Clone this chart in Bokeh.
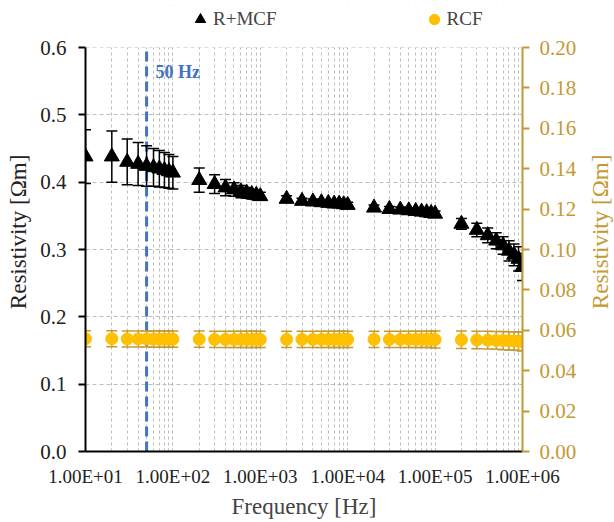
import numpy as np
from math import pi
from bokeh.plotting import figure
from bokeh.layouts import row
from bokeh.models import (Range1d, LinearAxis, FixedTicker, BasicTickFormatter,
                          NumeralTickFormatter, Label, Legend, LegendItem, ColumnDataSource,
                          BoxAnnotation)
from bokeh.embed import file_html
from bokeh.resources import INLINE

# ---------------- data ----------------
freq = [10, 20, 30, 40, 50, 60, 70, 80, 90,
        100, 200, 300, 400, 500, 600, 700, 800, 900,
        1000, 2000, 3000, 4000, 5000, 6000, 7000, 8000, 9000,
        10000, 20000, 30000, 40000, 50000, 60000, 70000, 80000, 90000,
        100000, 200000, 300000, 400000, 500000, 600000, 700000, 800000, 900000,
        1000000]

rmcf = [0.438, 0.438, 0.430, 0.427, 0.424, 0.422, 0.420, 0.418, 0.416,
        0.414, 0.403, 0.397, 0.392, 0.389, 0.386, 0.384, 0.382, 0.381,
        0.379, 0.375, 0.372, 0.371, 0.370, 0.369, 0.368, 0.368, 0.367,
        0.366, 0.362, 0.360, 0.359, 0.358, 0.357, 0.356, 0.355, 0.354,
        0.353, 0.338, 0.329, 0.321, 0.313, 0.306, 0.298, 0.292, 0.286,
        0.274]
rmcf_err = [0.040, 0.038, 0.034, 0.032, 0.030, 0.028, 0.027, 0.026, 0.025,
            0.024, 0.018, 0.014, 0.012, 0.010, 0.009, 0.008, 0.007, 0.007,
            0.006, 0.005, 0.004, 0.004, 0.004, 0.004, 0.004, 0.004, 0.004,
            0.004, 0.004, 0.004, 0.004, 0.004, 0.004, 0.004, 0.004, 0.004,
            0.004, 0.008, 0.010, 0.011, 0.012, 0.013, 0.015, 0.016, 0.018,
            0.020]

rcf = [0.0558, 0.0558, 0.0557, 0.0557, 0.0557, 0.0556, 0.0556, 0.0556, 0.0556,
       0.0556, 0.0556, 0.0555, 0.0555, 0.0555, 0.0555, 0.0555, 0.0555, 0.0555,
       0.0555, 0.0555, 0.0555, 0.0555, 0.0555, 0.0555, 0.0555, 0.0555, 0.0555,
       0.0555, 0.0555, 0.0555, 0.0555, 0.0555, 0.0555, 0.0555, 0.0555, 0.0555,
       0.0554, 0.0553, 0.0552, 0.0551, 0.0550, 0.0549, 0.0548, 0.0547, 0.0546,
       0.0545]
rcf_err = [0.0040] * 36 + [0.0042, 0.0043, 0.0043, 0.0044, 0.0044, 0.0045, 0.0045, 0.0046, 0.0046, 0.0047]

decade_ticks = [10, 100, 1000, 10000, 100000, 1000000]
decade_labels = ["1.00E+01", "1.00E+02", "1.00E+03", "1.00E+04", "1.00E+05", "1.00E+06"]
left_ticks = [0.0, 0.1, 0.2, 0.3, 0.4, 0.5, 0.6]
right_ticks = [0.00, 0.02, 0.04, 0.06, 0.08, 0.10, 0.12, 0.14, 0.16, 0.18, 0.20]
minor_ticks = [k * 10 ** n for n in range(1, 6) for k in range(1, 10)] + [1000000]
line_freq = 50
left_max, right_max = 0.6, 0.2
left_title = "Resistivity [Ωm]"
right_title = "Resistivity [Ωm]"
x_title = "Frequency [Hz]"

SERIF = "Liberation Serif"
GOLD = "#C39A34"
GRID = "#BDBDBD"
H = 522
STRIP_L, STRIP_R = 34, 34
MAIN_W = 614 - STRIP_L - STRIP_R

# frame: top at y=5, 0.6 at y=47, 0 at y=451 -> extra headroom for the legend
TOP_BORDER = 5
FRAME_H = 451 - TOP_BORDER
PX_PER_UNIT = (451 - 47) / left_max
y_top = FRAME_H / PX_PER_UNIT
r_top = y_top * right_max / left_max

# ---------------- main figure ----------------
p = figure(x_axis_type="log", x_range=Range1d(10, 1e6), y_range=Range1d(0, y_top),
           width=MAIN_W, height=H,
           min_border_left=85 - STRIP_L, min_border_right=92 - STRIP_R,
           min_border_top=TOP_BORDER, min_border_bottom=71,
           output_backend="svg", toolbar_location=None)
p.outline_line_color = None
p.background_fill_color = "white"
p.border_fill_color = "white"

p.extra_y_ranges = {"r": Range1d(0, r_top)}

# grids
p.xaxis.ticker = FixedTicker(ticks=decade_ticks, minor_ticks=minor_ticks)
p.xgrid.grid_line_color = GRID
p.xgrid.grid_line_dash = "3 3"
p.xgrid.minor_grid_line_color = GRID
p.xgrid.minor_grid_line_dash = "3 3"
p.yaxis.ticker = FixedTicker(ticks=left_ticks)
p.ygrid.grid_line_color = GRID
p.ygrid.grid_line_dash = "4 3"

# white cover above the 0.6 line (legend area)
p.add_layout(BoxAnnotation(bottom=left_max, fill_color="white", fill_alpha=1.0,
                           line_color=None, level="underlay"))

# x axis
xa = p.xaxis[0]
xa.formatter = BasicTickFormatter()
xa.major_label_overrides = {t: s for t, s in zip(decade_ticks, decade_labels)}
xa.axis_line_color = "black"
xa.axis_line_width = 2
xa.major_tick_line_color = None
xa.minor_tick_line_color = None
xa.major_label_text_font = SERIF
xa.major_label_text_font_size = "19px"
xa.major_label_text_font_style = "normal"
xa.major_label_text_color = "#222222"
xa.major_label_standoff = 8
xa.axis_label = x_title
xa.axis_label_text_font = SERIF
xa.axis_label_text_font_style = "normal"
xa.axis_label_text_font_size = "23px"
xa.axis_label_standoff = 4

# left axis
ya = p.yaxis[0]
ya.bounds = (0, left_max)
ya.formatter = NumeralTickFormatter(format="0.0")
ya.axis_line_color = "black"
ya.axis_line_width = 2
ya.major_tick_line_color = "black"
ya.major_tick_line_width = 2
ya.major_tick_out = 7
ya.major_tick_in = 0
ya.minor_tick_line_color = None
ya.major_label_text_font = SERIF
ya.major_label_text_font_size = "21px"
ya.major_label_text_color = "#222222"
ya.major_label_standoff = 12

# right axis
ra = LinearAxis(y_range_name="r", ticker=FixedTicker(ticks=right_ticks),
                formatter=NumeralTickFormatter(format="0.00"), bounds=(0, right_max))
ra.axis_line_color = GOLD
ra.axis_line_width = 2
ra.major_tick_line_color = GOLD
ra.major_tick_line_width = 2
ra.major_tick_out = 7
ra.major_tick_in = 0
ra.minor_tick_line_color = None
ra.major_label_text_font = SERIF
ra.major_label_text_font_size = "21px"
ra.major_label_text_color = GOLD
ra.major_label_standoff = 10
p.add_layout(ra, "right")

# 50 Hz line
p.segment(x0=[line_freq], y0=[0], x1=[line_freq], y1=[left_max], line_color="#4472C4",
          line_width=3, line_dash="10 5")
p.add_layout(Label(x=line_freq, y=0.564, text="50 Hz", x_offset=9, text_baseline="middle",
                   text_font=SERIF, text_font_style="bold", text_font_size="18px",
                   text_color="#4472C4"))

# RCF series (secondary axis)
src_c = ColumnDataSource(dict(
    f=freq, y=rcf,
    lo=[v - e for v, e in zip(rcf, rcf_err)],
    hi=[v + e for v, e in zip(rcf, rcf_err)]))
p.segment(x0="f", y0="lo", x1="f", y1="hi", source=src_c, y_range_name="r",
          line_color=GOLD, line_width=1.5)
p.scatter(x="f", y="lo", source=src_c, y_range_name="r", marker="dash", size=11,
          line_color=GOLD, line_width=1.5)
p.scatter(x="f", y="hi", source=src_c, y_range_name="r", marker="dash", size=11,
          line_color=GOLD, line_width=1.5)
circ = p.scatter(x="f", y="y", source=src_c, y_range_name="r", marker="circle", size=12,
                 fill_color="#FFC000", line_color="#FFC000")

# R+MCF series
src_t = ColumnDataSource(dict(
    f=freq, y=rmcf,
    lo=[v - e for v, e in zip(rmcf, rmcf_err)],
    hi=[v + e for v, e in zip(rmcf, rmcf_err)]))
p.segment(x0="f", y0="lo", x1="f", y1="hi", source=src_t, line_color="black", line_width=1.5)
p.scatter(x="f", y="lo", source=src_t, marker="dash", size=11, line_color="black", line_width=1.5)
p.scatter(x="f", y="hi", source=src_t, marker="dash", size=11, line_color="black", line_width=1.5)
tri = p.scatter(x="f", y="y", source=src_t, marker="triangle", size=15,
                fill_color="black", line_color="black")

legend = Legend(items=[LegendItem(label="R+MCF", renderers=[tri]),
                       LegendItem(label="RCF", renderers=[circ])],
                orientation="horizontal", spacing=144, location=(102, FRAME_H - 28),
                border_line_color=None, background_fill_alpha=0,
                label_text_font=SERIF, label_text_font_size="19px",
                glyph_width=26, glyph_height=28, label_standoff=0, margin=0,
                padding=2)
p.add_layout(legend, "center")


# ---------------- side strips holding the rotated axis titles ----------------
def title_strip(width, text, color, x_center, y_center_from_top):
    s = figure(width=width, height=H, x_range=Range1d(0, width), y_range=Range1d(0, H),
               x_axis_location=None, y_axis_location=None,
               min_border=0, output_backend="svg", toolbar_location=None)
    s.outline_line_color = None
    s.grid.visible = False
    s.background_fill_color = "white"
    s.border_fill_color = "white"
    s.add_layout(Label(x=x_center, y=H - y_center_from_top, text=text, angle=pi / 2,
                       text_align="center", text_baseline="middle", text_font=SERIF,
                       text_font_size="23px", text_color=color))
    return s


left_strip = title_strip(STRIP_L, left_title, "#222222", 18, 265)
right_strip = title_strip(STRIP_R, right_title, GOLD, 600 - (614 - STRIP_R), 265)

layout = row(left_strip, p, right_strip, spacing=0)

open("out.html", "w").write(file_html(layout, INLINE))
